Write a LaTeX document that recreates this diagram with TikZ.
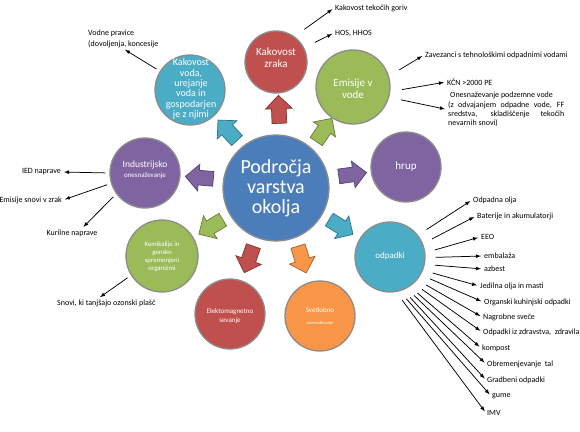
\documentclass[tikz,border=0pt]{standalone}
\usepackage{fontspec}
\setmainfont{Carlito}
\usetikzlibrary{arrows,shapes,positioning}
\definecolor{modra}{HTML}{4A7DBA}
\definecolor{rdeca}{HTML}{C0504D}
\definecolor{turkizna}{HTML}{4BACC6}
\definecolor{zelena}{HTML}{9BBB59}
\definecolor{vijolicna}{HTML}{8064A2}
\definecolor{oranzna}{HTML}{F79646}

\begin{document}
\begin{tikzpicture}[x=1pt, y=-1pt]

  \newcommand{\blokpus}[4]{\node[blok=#1, rotate=#4] (#2) at #3 {};}
  \newcommand{\odp}[4]{\node[oznaka, anchor=west] (#1) at #2 {#4};
    \draw[puscica=10pt] (odpadki.#3) -- (#1.west);}
  \tikzset{
    krog/.style = {circle, draw=black!45, line width=1.3pt, inner sep=0pt},
    napis/.style = {text=white, align=center, inner sep=0pt},
    blok/.style = {single arrow, single arrow head extend=6pt,
      inner xsep=7pt, inner ysep=7pt, minimum height=28pt,
      fill=#1, draw=#1!65!black, line width=0.7pt},
    oznaka/.style = {font=\fontsize{8}{9}\selectfont, text=black, inner sep=1pt},
    puscica/.style = {->, >=latex, line width=0.75pt, shorten <=#1, shorten >=2pt},
    puscica/.default = 4pt}
  \useasboundingbox (0,0) rectangle (580,431);

  % krogi
  \node[krog, fill=modra, minimum size=106pt] (okolje) at (276,188) {};
  \node[krog, fill=rdeca, minimum size=62pt] (zrak) at (276,62) {};
  \node[krog, fill=turkizna, minimum size=70pt] (voda) at (190,90) {};
  \node[krog, fill=zelena, minimum size=74pt] (emisije) at (353,87) {};
  \node[krog, fill=vijolicna, minimum size=70pt] (hrup) at (406,167) {};
  \node[krog, fill=turkizna, minimum size=70pt] (odpadki) at (390,257) {};
  \node[krog, fill=oranzna, minimum size=70pt] (svetlobno) at (320,316) {};
  \node[krog, fill=rdeca, minimum size=70pt] (sevanje) at (230,314) {};
  \node[krog, fill=zelena, minimum size=72pt] (kemikalije) at (162,256) {};
  \node[krog, fill=vijolicna, minimum size=70pt] (industrija) at (145,173) {};

  \node[napis, font=\fontsize{20}{20}\selectfont] (okoljet) at (276,188) {Področja\\varstva\\okolja};
  \node[napis, font=\fontsize{11}{12}\selectfont] (zrakt) at (276,58) {Kakovost\\zraka};
  \node[napis, font=\fontsize{10}{10.4}\selectfont] (vodat) at (191,89) {Kakovost\\voda,\\urejanje\\voda in\\gospodarjen\\je z njimi};
  \node[napis, font=\fontsize{11}{12}\selectfont] (emisijet) at (353,89) {Emisije v\\vode};
  \node[napis, font=\fontsize{11}{12}\selectfont] (hrupt) at (406,167) {hrup};
  \node[napis, font=\fontsize{9}{10}\selectfont] (odpadkit) at (390,256) {odpadki};
  \node[napis] (svetlobnot) at (320,316) {{\fontsize{7}{8}\selectfont Svetlobno}\\{\fontsize{4.5}{6}\selectfont onesnaževanje}};
  \node[napis, font=\fontsize{7}{8.5}\selectfont] (sevanjet) at (230,316) {Elektomagnetno\\sevanje};
  \node[napis, font=\fontsize{6.8}{8}\selectfont] (kemikalijet) at (162,257) {Kemikalije in\\gensko\\spremenjeni\\organizmi};
  \node[napis] (industrijat) at (145,170) {{\fontsize{9.5}{10}\selectfont Industrijsko}\\[-2pt]{\fontsize{7}{8}\selectfont onesnaževanje}};

  % bloki
  \blokpus{rdeca}{pzrak}{(279,113)}{92}
  \blokpus{turkizna}{pvoda}{(230,133)}{133}
  \blokpus{zelena}{pemisije}{(322,133)}{56}
  \blokpus{vijolicna}{pindustrija}{(203,178)}{175}
  \blokpus{vijolicna}{phrup}{(349,175)}{8}
  \blokpus{zelena}{pkemikalije}{(214,225)}{211}
  \blokpus{turkizna}{podpadki}{(338,225)}{-32}
  \blokpus{rdeca}{psevanje}{(250,256)}{251}
  \blokpus{oranzna}{psvetlobno}{(301,256)}{287}

  % oznake
  \node[oznaka, anchor=west, align=left, font=\fontsize{8}{11}\selectfont] (pravice) at (87,38.5) {Vodne pravice\\(dovoljenja, koncesije};
  \node[oznaka, anchor=west] (goriva) at (334,8) {Kakovost tekočih goriv};
  \node[oznaka, anchor=west] (hos) at (334,33) {HOS, HHOS};
  \node[oznaka, anchor=west] (zavezanci) at (424,55) {Zavezanci s tehnološkimi odpadnimi vodami};
  \node[oznaka, anchor=west] (kcn) at (446,82) {KČN >2000 PE};
  \node[oznaka, anchor=north west, text width=116pt, align=justify,
    font=\fontsize{8}{9.3}\selectfont] (podzemne) at (447,91)
    {\hspace*{2pt}Onesnaževanje podzemne vode\\(z odvajanjem odpadne vode, FF\linebreak sredstva, skladiščenje tekočih\linebreak nevarnih snovi)};
  \node[oznaka, anchor=east] (ied) at (62,172) {IED naprave};
  \node[oznaka, anchor=east] (zrakemis) at (63,200) {Emisije snovi v zrak};
  \node[oznaka] (kurilne) at (72,233) {Kurilne naprave};
  \node[oznaka, anchor=west] (ozon) at (56,303) {Snovi, ki tanjšajo ozonski plašč};

  \draw[puscica] (voda.148) -- (pravice.south);
  \draw[puscica=12pt] (zrak.54) -- (goriva.west);
  \draw[puscica=12pt] (zrak.27) -- (hos.west);
  \draw[puscica=12pt] (emisije.17) -- (zavezanci.west);
  \draw[puscica=12pt] (emisije.-7) -- (kcn.west);
  \draw[puscica=12pt] (emisije.-16) -- (podzemne.west);
  \draw[puscica] (industrija.180) -- (ied.east);
  \draw[puscica] (industrija.197) -- (zrakemis.east);
  \draw[puscica] (industrija.216) -- ([xshift=10pt]kurilne.north);
  \draw[puscica] (kemikalije.212) -- ([xshift=-8pt]ozon.north);

  \odp{olja}{(472,200)}{38}{Odpadna olja}
  \odp{baterije}{(476,216)}{22}{Baterije in akumulatorji}
  \odp{eeo}{(480,237)}{7}{EEO}
  \odp{embalaza}{(483,256)}{-1}{embalaža}
  \odp{azbest}{(483,269)}{-12}{azbest}
  \odp{jedilna}{(479,286)}{-22}{Jedilna olja in masti}
  \odp{kuhinjski}{(483,302)}{-30}{Organski kuhinjski odpadki}
  \odp{svece}{(482,317)}{-40}{Nagrobne sveče}
  \odp{zdravstvo}{(482,332)}{-48}{Odpadki iz zdravstva,\ \ zdravila}
  \odp{kompost}{(481,348)}{-56}{kompost}
  \odp{tla}{(486,364)}{-62}{Obremenjevanje\ \ tal}
  \odp{gradbeni}{(486,380)}{-68}{Gradbeni odpadki}
  \odp{gume}{(491,396)}{-74}{gume}
  \odp{imv}{(486,413)}{-80}{IMV}

\end{tikzpicture}
\end{document}
